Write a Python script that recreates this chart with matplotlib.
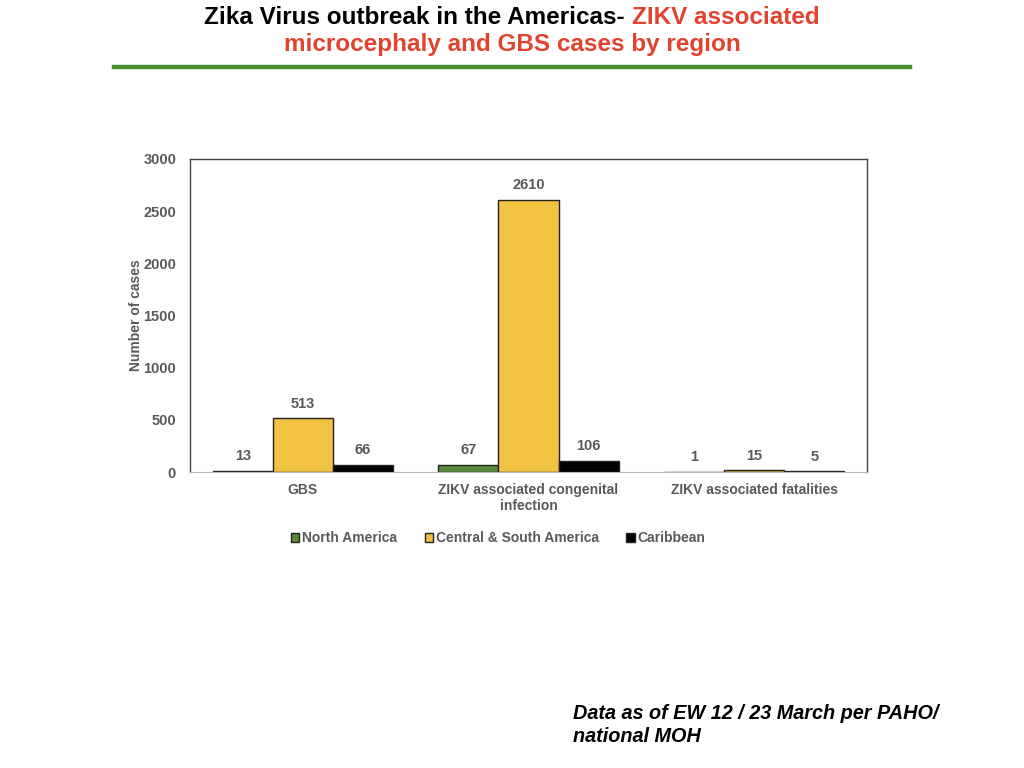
import matplotlib
matplotlib.use("Agg")
import matplotlib.pyplot as plt
import numpy as np

categories = ["GBS", "ZIKV associated congenital\ninfection", "ZIKV associated fatalities"]
series_names = ["North America", "Central & South America", "Caribbean"]
north_america = [13, 67, 1]
central_south = [513, 2610, 15]
caribbean = [66, 106, 5]
yticks = [0, 500, 1000, 1500, 2000, 2500, 3000]

colors = ["#5b8a3c", "#f2c242", "#000000"]
gray = "#595959"
sans = ["Liberation Sans", "DejaVu Sans"]

fig = plt.figure(figsize=(10.24, 7.68), dpi=100)
ax = fig.add_axes([190/1024, 1-472/768, 677/1024, 313/768])

x = np.arange(len(categories))
w = 0.266
series = [north_america, central_south, caribbean]
for i, (vals, name, c) in enumerate(zip(series, series_names, colors)):
    pos = x + (i - 1) * w
    bars = ax.bar(pos, vals, width=w, color=c, edgecolor="#222222", linewidth=1.0, label=name)
    for b, v in zip(bars, vals):
        ax.annotate(str(v), (b.get_x() + b.get_width()/2, v), xytext=(0, 5.5),
                    textcoords="offset points", ha="center", va="bottom",
                    fontsize=10.5, fontweight="bold", color=gray, family=sans)

ax.set_xlim(-0.5, 2.5)
ax.set_ylim(0, 3000)
ax.set_yticks(yticks)
ax.set_yticklabels([str(t) for t in yticks], fontsize=10.5, fontweight="bold", color=gray, family=sans)
ax.set_xticks(x)
ax.set_xticklabels(categories, fontsize=10, fontweight="bold", color=gray, family=sans, linespacing=1.15)
ax.tick_params(axis="y", length=0, pad=10)
ax.tick_params(axis="x", length=0, pad=8)
for s in ["top", "right", "left"]:
    ax.spines[s].set_color("#444444")
    ax.spines[s].set_linewidth(1.0)
ax.spines["bottom"].set_color("#bbbbbb")
ax.set_ylabel("Number of cases", fontsize=10, fontweight="bold", color=gray, family=sans, labelpad=0)

leg = ax.legend(loc="upper center", bbox_to_anchor=(0.455, -0.15), ncol=3, frameon=False,
                prop={"family": sans, "weight": "bold", "size": 10},
                handlelength=0.6, handleheight=0.6, handletextpad=0.2, columnspacing=2.0)
for t in leg.get_texts():
    t.set_color(gray)

# Title with two colours
red = "#e0442e"
fig.canvas.draw()
r = fig.canvas.get_renderer()
tsize = 17.5
t1 = fig.text(0, 0, "Zika Virus outbreak in the Americas- ", fontsize=tsize, fontweight="bold",
              color="black", family=sans, va="center", ha="left")
t2 = fig.text(0, 0, "ZIKV associated", fontsize=tsize, fontweight="bold",
              color=red, family=sans, va="center", ha="left")
w1 = t1.get_window_extent(r).width
w2 = t2.get_window_extent(r).width
start = 512 - (w1 + w2) / 2
y1 = 1 - 17/768
t1.set_position((start/1024, y1))
t2.set_position(((start + w1)/1024, y1))
fig.text(0.5, 1 - 45/768, "microcephaly and GBS cases by region", fontsize=tsize, fontweight="bold",
         color=red, family=sans, va="center", ha="center")

fig.add_artist(plt.Line2D([114/1024, 910/1024], [1-67/768, 1-67/768], color="#4a8c32", linewidth=3.2,
                          transform=fig.transFigure))

fig.text(573/1024, 1-725/768, "Data as of EW 12 / 23 March per PAHO/\nnational MOH", fontsize=14.3,
         fontweight="bold", fontstyle="italic", family=sans, va="center", ha="left", linespacing=1.3)

fig.savefig("out.png", dpi=100)
